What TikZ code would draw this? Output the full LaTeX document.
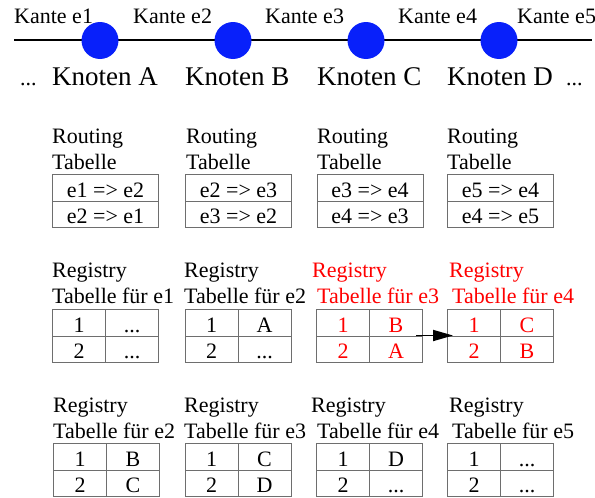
\documentclass[tikz,border=0pt]{standalone}
\usepackage{fontspec}
\setmainfont{Liberation Serif}
\usetikzlibrary{arrows.meta}
\definecolor{nodeblue}{RGB}{8,32,250}
\definecolor{regred}{RGB}{255,0,0}
\definecolor{tabgray}{RGB}{110,110,110}

% routing table: name, x, y, first row, second row
\newcommand\routtab[5]{%
  \node[rcell] (#1-1) at (#2,#3) {#4};
  \node[rcell] (#1-2) at (#2,{#3+26.5}) {#5};
}
% registry table: name, x, y, colour, entry 1, entry 2
\newcommand\regtab[6]{%
  \node[kcell,text=#4] (#1-11) at (#2,#3) {1};
  \node[kcell,text=#4] (#1-12) at ({#2+53},#3) {#5};
  \node[kcell,text=#4] (#1-21) at (#2,{#3+26.5}) {2};
  \node[kcell,text=#4] (#1-22) at ({#2+53},{#3+26.5}) {#6};
}

\begin{document}
\begin{tikzpicture}[x=1pt,y=-1pt,
  lbl/.style={anchor=base west, inner sep=0pt, font=\fontsize{22}{26}\selectfont},
  knlbl/.style={anchor=base west, inner sep=0pt, font=\fontsize{27}{30}\selectfont},
  knot/.style={circle, fill=nodeblue, minimum size=37pt, inner sep=0pt},
  cell/.style={draw=tabgray, line width=1pt, anchor=north west, inner sep=0pt,
    minimum height=26.5pt, text height=19pt, text depth=0pt,
    font=\fontsize{22}{26}\selectfont},
  rcell/.style={cell, minimum width=106pt},
  kcell/.style={cell, minimum width=53pt},
  passarrow/.style={line width=1.8pt, -{Triangle[length=20pt,width=11pt]}}]
\useasboundingbox (0,0) rectangle (595,498);

% the line of edges with its four nodes
\coordinate (lineL) at (14,40);
\coordinate (lineR) at (592,40);
\draw[line width=1.5pt] (lineL) -- (lineR);
\node[knot] (A) at (100,40.5) {};
\node[knot] (B) at (233,40.5) {};
\node[knot] (C) at (366,40.5) {};
\node[knot] (D) at (499,40.5) {};

% edge labels
\node[lbl] (k1) at (14,23) {Kante e1};
\node[lbl] (k2) at (133,23) {Kante e2};
\node[lbl] (k3) at (265,23) {Kante e3};
\node[lbl] (k4) at (398,23) {Kante e4};
\node[lbl] (k5) at (517,23) {Kante e5};

% node labels
\node[lbl] (dl) at (20,85) {...};
\node[knlbl] (nA) at (52,85) {Knoten A};
\node[knlbl] (nB) at (185,85) {Knoten B};
\node[knlbl] (nC) at (317,85) {Knoten C};
\node[knlbl] (nD) at (447,85) {Knoten D};
\node[lbl] (dr) at (566,85) {...};

% routing tables
\node[lbl] (rt1a) at (52,143) {Routing};
\node[lbl] (rt1b) at (52,169) {Tabelle};
\node[lbl] (rt2a) at (186,143) {Routing};
\node[lbl] (rt2b) at (186,169) {Tabelle};
\node[lbl] (rt3a) at (317,143) {Routing};
\node[lbl] (rt3b) at (317,169) {Tabelle};
\node[lbl] (rt4a) at (447,143) {Routing};
\node[lbl] (rt4b) at (447,169) {Tabelle};
\routtab{t1}{52}{174}{e1 => e2}{e2 => e1}
\routtab{t2}{185}{174}{e2 => e3}{e3 => e2}
\routtab{t3}{316.5}{174}{e3 => e4}{e4 => e3}
\routtab{t4}{447}{174}{e5 => e4}{e4 => e5}

% registry tables for the incoming edges
\node[lbl] (ra1a) at (52,277) {Registry};
\node[lbl] (ra1b) at (52,303) {Tabelle für e1};
\node[lbl] (ra2a) at (184,277) {Registry};
\node[lbl] (ra2b) at (184,303) {Tabelle für e2};
\node[lbl,text=regred] (ra3a) at (312,277) {Registry};
\node[lbl,text=regred] (ra3b) at (317,303) {Tabelle für e3};
\node[lbl,text=regred] (ra4a) at (449,277) {Registry};
\node[lbl,text=regred] (ra4b) at (452,303) {Tabelle für e4};
\regtab{r1}{52}{309}{black}{...}{...}
\regtab{r2}{184.5}{309}{black}{A}{...}
\regtab{r3}{316}{309}{regred}{B}{A}
\regtab{r4}{447}{309}{regred}{C}{B}

\draw[passarrow]
  ([xshift=-7pt]r3-22.north east) -- ([xshift=6pt]r4-21.north west);

% registry tables for the outgoing edges
\node[lbl] (rb1a) at (53,412) {Registry};
\node[lbl] (rb1b) at (53,438) {Tabelle für e2};
\node[lbl] (rb2a) at (184,412) {Registry};
\node[lbl] (rb2b) at (184,438) {Tabelle für e3};
\node[lbl] (rb3a) at (311,412) {Registry};
\node[lbl] (rb3b) at (317,438) {Tabelle für e4};
\node[lbl] (rb4a) at (449,412) {Registry};
\node[lbl] (rb4b) at (452,438) {Tabelle für e5};
\regtab{s1}{53}{443}{black}{B}{C}
\regtab{s2}{184.5}{443}{black}{C}{D}
\regtab{s3}{316}{443}{black}{D}{...}
\regtab{s4}{447}{443}{black}{...}{...}
\end{tikzpicture}
\end{document}
